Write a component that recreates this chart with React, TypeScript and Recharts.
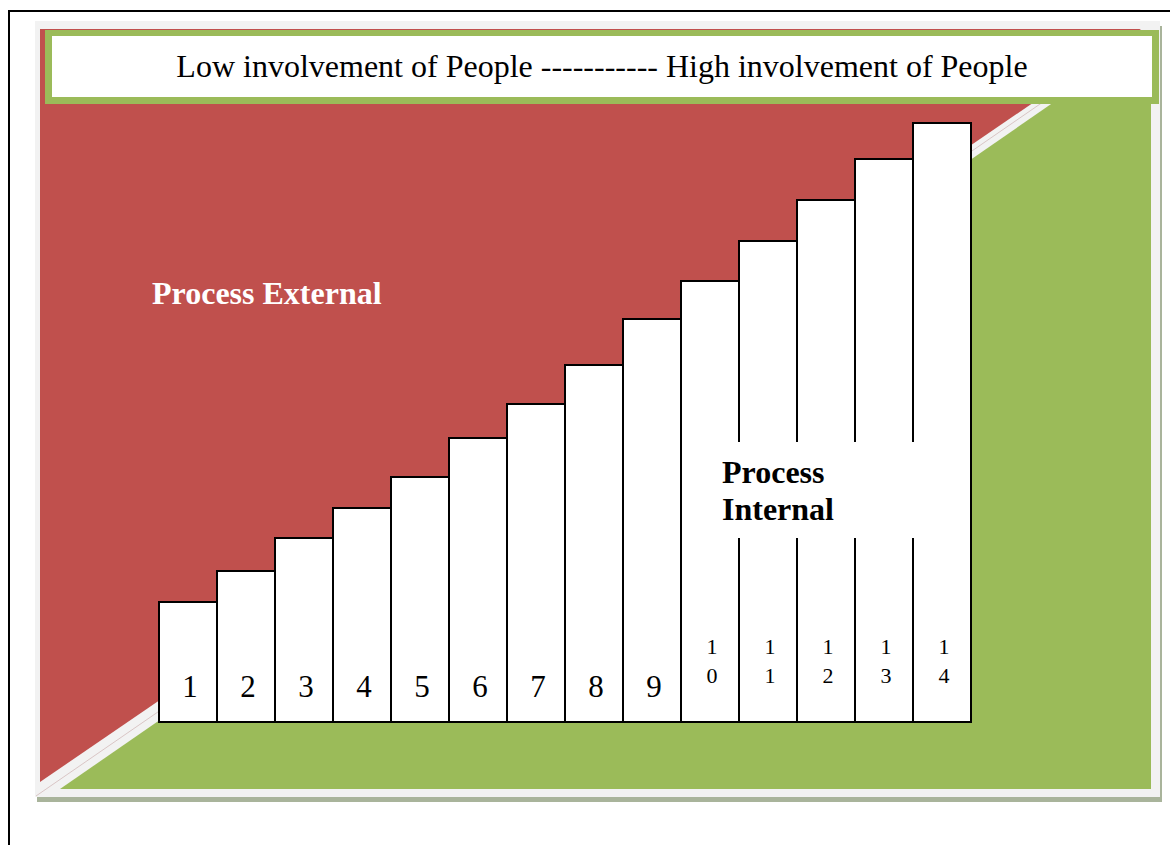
import React from 'react';
import { BarChart, Bar, XAxis, YAxis, LabelList } from 'recharts';

// stages of involvement, left (low) to right (high)
const stages = ['1', '2', '3', '4', '5', '6', '7', '8', '9', '10', '11', '12', '13', '14'];
const involvement = [120, 151, 184, 214, 245, 284, 318, 357, 403, 441, 481, 522, 563, 599];

const headerText = 'Low involvement of People ----------- High involvement of People';
const externalLabel = 'Process External';
const internalLines = ['Process', 'Internal'];

const data = stages.map((stage, i) => ({ stage, value: involvement[i] }));

const RED = '#c0504d';
const GREEN = '#9bbb59';
const PANEL = '#f2f2f2';
const SERIF = '"Liberation Serif", "Times New Roman", serif';

const StageLabel = (props: any) => {
  const { x, y, width, height, value } = props;
  const cx = x + width / 2 + 2;
  const bottom = y + height;
  const chars = String(value).split('');
  if (chars.length === 1) {
    return (
      <text x={cx} y={bottom - 25} textAnchor="middle" fontFamily={SERIF} fontSize={31} fill="#000">
        {value}
      </text>
    );
  }
  return (
    <g>
      <text x={cx} y={bottom - 68} textAnchor="middle" fontFamily={SERIF} fontSize={22} fill="#000">
        {chars[0]}
      </text>
      <text x={cx} y={bottom - 39} textAnchor="middle" fontFamily={SERIF} fontSize={22} fill="#000">
        {chars[1]}
      </text>
    </g>
  );
};

const App: React.FC = () => {
  return (
    <div style={{ position: 'absolute', left: 0, top: 0, width: 1170, height: 845, overflow: 'hidden', background: '#fff' }}>
      {/* page frame */}
      <div style={{ position: 'absolute', left: 8, top: 10, width: 1300, height: 900, borderLeft: '2px solid #000', borderTop: '2px solid #000' }} />

      {/* shaded panel */}
      <div style={{ position: 'absolute', left: 35, top: 21, width: 1125, height: 776, background: PANEL, boxShadow: '2px 5px 0 #a9b49b' }} />

      {/* the two halves */}
      <svg width={1170} height={845} style={{ position: 'absolute', left: 0, top: 0 }}>
        <polygon points="40,29 1141,29 40,782" fill={RED} />
        <polygon points="1151,35 1151,789 60,789" fill={GREEN} />
        <line x1={36} y1={796} x2={1146} y2={31} stroke="#d9c5c5" strokeWidth={1} />
      </svg>

      {/* header */}
      <div
        style={{
          position: 'absolute', left: 45, top: 30, width: 1100, height: 61,
          border: `7px solid ${GREEN}`, borderTopWidth: 6, background: '#fff',
        }}
      />
      <svg width={1170} height={120} style={{ position: 'absolute', left: 0, top: 0 }}>
        <text x={602} y={77} textAnchor="middle" fontFamily={SERIF} fontSize={32} fill="#000">
          {headerText}
        </text>
      </svg>

      {/* steps */}
      <div style={{ position: 'absolute', left: 0, top: 0 }}>
        <BarChart
          width={1170}
          height={845}
          data={data}
          margin={{ top: 122, right: 199, bottom: 123, left: 159 }}
          barCategoryGap={0}
        >
          <XAxis dataKey="stage" hide />
          <YAxis hide domain={[0, 600]} />
          <Bar dataKey="value" fill="#fff" stroke="#000" strokeWidth={2} isAnimationActive={false}>
            <LabelList dataKey="stage" content={StageLabel} />
          </Bar>
        </BarChart>
      </div>

      {/* labels */}
      <svg width={1170} height={845} style={{ position: 'absolute', left: 0, top: 0 }}>
        <text x={152} y={304} fontFamily={SERIF} fontSize={32} fontWeight="bold" fill="#fff">
          {externalLabel}
        </text>
        <rect x={705} y={442} width={258} height={96} fill="#fff" />
        <text x={722} y={483} fontFamily={SERIF} fontSize={32} fontWeight="bold" fill="#000">
          {internalLines[0]}
        </text>
        <text x={722} y={520} fontFamily={SERIF} fontSize={32} fontWeight="bold" fill="#000">
          {internalLines[1]}
        </text>
      </svg>
    </div>
  );
};

export default App;
